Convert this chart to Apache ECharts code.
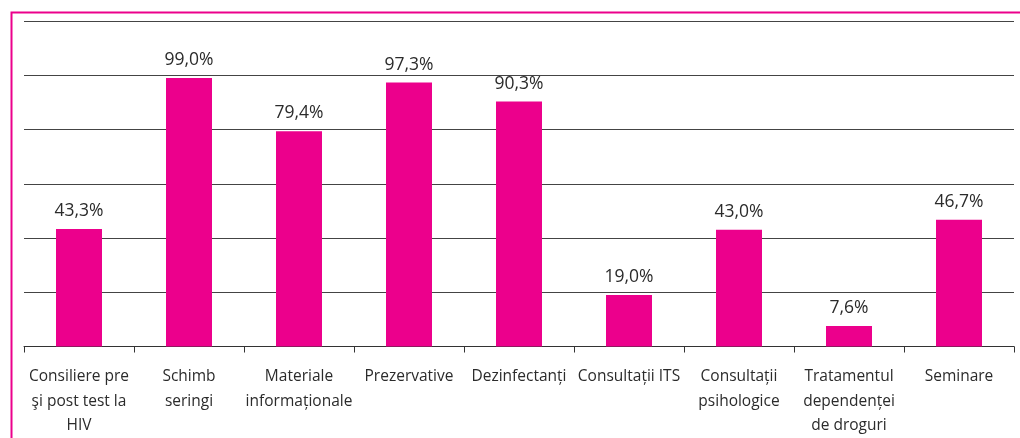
<!DOCTYPE html>
<html><head><meta charset="utf-8">
<script src="https://cdn.jsdelivr.net/npm/echarts@6/dist/echarts.min.js"></script>
<style>html,body{margin:0;padding:0;background:#fff;}#c{width:1020px;height:438px;}</style>
</head><body><div id="c"></div>
<script>
var categories = ["Consiliere pre\nşi post test la\nHIV", "Schimb\nseringi", "Materiale\ninformaționale", "Prezervative", "Dezinfectanți", "Consultații ITS", "Consultații\npsihologice", "Tratamentul\ndependenței\nde droguri", "Seminare"];
var values = [43.3, 99.0, 79.4, 97.3, 90.3, 19.0, 43.0, 7.6, 46.7];

var chart = echarts.init(document.getElementById('c'));
chart.setOption({
  animation: false,
  graphic: [{
    type: 'rect', left: 9, top: 10,
    shape: { width: 1030, height: 450 },
    style: { fill: 'none', stroke: '#EC008C', lineWidth: 2 }, z: 100
  }],
  grid: { left: 24, right: 6, top: 21, bottom: 88, containLabel: false },
  xAxis: {
    type: 'category', data: categories,
    axisLine: { lineStyle: { color: '#333', width: 1 } },
    axisTick: { show: true, alignWithLabel: false, length: 6, lineStyle: { color: '#333' } },
    axisLabel: { interval: 0, color: '#2b2b2b', fontFamily: '"Open Sans", sans-serif', fontSize: 15.5, lineHeight: 24.5, margin: 18 }
  },
  yAxis: {
    type: 'value', min: 0, max: 120, interval: 20,
    axisLabel: { show: false }, axisLine: { show: false }, axisTick: { show: false },
    splitLine: { lineStyle: { color: '#444', width: 1 } }
  },
  series: [{
    type: 'bar', data: values, barWidth: 46,
    itemStyle: { color: '#EC008C' },
    label: {
      show: true, position: 'top', distance: 9, color: '#2b2b2b',
      fontFamily: '"Open Sans", sans-serif', fontSize: 17.5,
      formatter: function (p) { return p.value.toFixed(1).replace('.', ',') + '%'; }
    }
  }]
});
</script></body></html>
